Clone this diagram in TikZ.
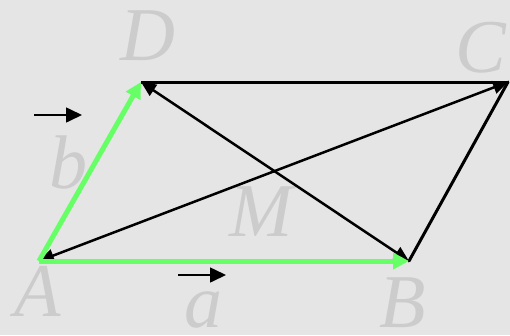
\documentclass[tikz,border=0pt]{standalone}
\usepackage{fontspec}
\setmainfont{Liberation Serif}
\usetikzlibrary{arrows.meta}
\definecolor{bg}{RGB}{229,229,229}
\definecolor{vgreen}{RGB}{102,255,102}
\definecolor{lblgray}{RGB}{204,204,204}
\tikzset{
  lbl/.style={inner sep=0pt, text=lblgray, font=\fontsize{76}{76}\selectfont\itshape},
  vec/.style={draw=vgreen, line width=5pt, -{Triangle[length=16pt,width=16pt]}},
  side/.style={draw=black, line width=3pt},
  diag/.style={draw=black, line width=2.5pt, {Triangle[length=15pt,width=13pt]}-{Triangle[length=15pt,width=13pt]}},
  small/.style={draw=black, line width=1.6pt, -{Triangle[length=16pt,width=15pt]}}
}
\begin{document}
\begin{tikzpicture}[x=1pt,y=-1pt]
\fill[bg] (0,0) rectangle (510,335);
\useasboundingbox (0,0) rectangle (510,335);
\coordinate (A) at (39,261);
\coordinate (B) at (409,261);
\coordinate (C) at (508,82);
\coordinate (D) at (141,82);
\coordinate (bs) at (34,115);
\coordinate (be) at (82,115);
\coordinate (as) at (178,275);
\coordinate (ae) at (226,275);
\node[lbl] (lD) at (148,36) {D};
\node[lbl] (lC) at (481,48) {C};
\node[lbl] (lA) at (38,291) {A};
\node[lbl] (lB) at (403,303) {B};
\node[lbl] (lb) at (68,162) {b};
\node[lbl] (la) at (203,310) {a};
\node[lbl] (lM) at (261,212) {M};
\draw[side] (D) -- (C);
\draw[side, line cap=round] (B) -- (C);
\draw[diag] (A) -- (C);
\draw[diag] (B) -- (D);
\draw[vec] (A) -- (B);
\draw[vec] (A) -- (D);
\draw[small] (bs) -- (be);
\draw[small] (as) -- (ae);
\end{tikzpicture}
\end{document}
